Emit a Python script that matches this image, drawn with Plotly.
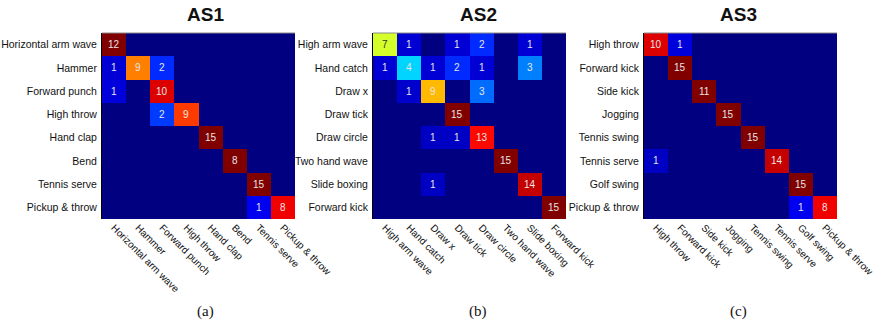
import plotly.graph_objects as go
import numpy as np

labels_as1 = ["Horizontal arm wave", "Hammer", "Forward punch", "High throw",
              "Hand clap", "Bend", "Tennis serve", "Pickup & throw"]
counts_as1 = [
    [12, 0, 0, 0, 0, 0, 0, 0],
    [1, 9, 2, 0, 0, 0, 0, 0],
    [1, 0, 10, 0, 0, 0, 0, 0],
    [0, 0, 2, 9, 0, 0, 0, 0],
    [0, 0, 0, 0, 15, 0, 0, 0],
    [0, 0, 0, 0, 0, 8, 0, 0],
    [0, 0, 0, 0, 0, 0, 15, 0],
    [0, 0, 0, 0, 0, 0, 1, 8],
]

labels_as2 = ["High arm wave", "Hand catch", "Draw x", "Draw tick",
              "Draw circle", "Two hand wave", "Slide boxing", "Forward kick"]
counts_as2 = [
    [7, 1, 0, 1, 2, 0, 1, 0],
    [1, 4, 1, 2, 1, 0, 3, 0],
    [0, 1, 9, 0, 3, 0, 0, 0],
    [0, 0, 0, 15, 0, 0, 0, 0],
    [0, 0, 1, 1, 13, 0, 0, 0],
    [0, 0, 0, 0, 0, 15, 0, 0],
    [0, 0, 1, 0, 0, 0, 14, 0],
    [0, 0, 0, 0, 0, 0, 0, 15],
]

labels_as3 = ["High throw", "Forward kick", "Side kick", "Jogging",
              "Tennis swing", "Tennis serve", "Golf swing", "Pickup & throw"]
counts_as3 = [
    [10, 1, 0, 0, 0, 0, 0, 0],
    [0, 15, 0, 0, 0, 0, 0, 0],
    [0, 0, 11, 0, 0, 0, 0, 0],
    [0, 0, 0, 15, 0, 0, 0, 0],
    [0, 0, 0, 0, 15, 0, 0, 0],
    [1, 0, 0, 0, 0, 14, 0, 0],
    [0, 0, 0, 0, 0, 0, 15, 0],
    [0, 0, 0, 0, 0, 0, 1, 8],
]

titles = ["AS1", "AS2", "AS3"]
captions = ["(a)", "(b)", "(c)"]

jet = [
    [0.0, "rgb(0,0,128)"],
    [0.125, "rgb(0,0,255)"],
    [0.375, "rgb(0,255,255)"],
    [0.625, "rgb(255,255,0)"],
    [0.875, "rgb(255,0,0)"],
    [1.0, "rgb(128,0,0)"],
]

W, H = 874, 324
panels = [
    (labels_as1, counts_as1, 102, 295, 205),
    (labels_as2, counts_as2, 373, 566, 478),
    (labels_as3, counts_as3, 644, 837, 738),
]
top_px, bot_px = 33, 219


def px(xp):
    return xp / W


def py(yp):
    return 1 - yp / H


fig = go.Figure()
shapes = []
annotations = []
for i, (labels, counts, x0, x1, cx) in enumerate(panels):
    c = np.array(counts, dtype=float)
    norm = c / c.sum(axis=1, keepdims=True)
    xa = "x" if i == 0 else f"x{i+1}"
    ya = "y" if i == 0 else f"y{i+1}"
    fig.add_trace(go.Heatmap(
        z=norm, x=labels, y=labels, colorscale=jet, zmin=0, zmax=1,
        showscale=False, xaxis=xa, yaxis=ya, hoverinfo="skip",
        xgap=0, ygap=0,
    ))
    for r in range(8):
        for k in range(8):
            v = counts[r][k]
            if v == 0:
                continue
            nv = norm[r, k]
            col = "#333333" if 0.45 < nv < 0.62 else "#e6e6e6"
            annotations.append(dict(
                x=labels[k], y=labels[r], xref=xa, yref=ya, text=str(v),
                showarrow=False, font=dict(family="Liberation Sans", size=10, color=col),
            ))
    suffix = "" if i == 0 else str(i + 1)
    fig.update_layout(**{
        f"xaxis{suffix}": dict(
            domain=[px(x0), px(x1)], anchor=ya, tickangle=45, ticks="",
            showgrid=False, zeroline=False, showline=False, automargin=False,
            tickfont=dict(family="Liberation Sans", size=10, color="#111"),
            fixedrange=True,
        ),
        f"yaxis{suffix}": dict(
            domain=[py(bot_px), py(top_px)], anchor=xa,
            autorange="reversed", ticks="", showgrid=False, zeroline=False,
            showline=True, linecolor="#000", linewidth=1, automargin=False,
            tickfont=dict(family="Liberation Sans", size=10.5, color="#111"),
            ticklabelstandoff=2, fixedrange=True,
        ),
    })
    shapes.append(dict(type="line", xref=f"{xa} domain", yref=f"{ya} domain",
                       x0=0, x1=1, y0=1, y1=1, line=dict(color="#888", width=1)))
    annotations.append(dict(
        x=px(cx), y=py(15), xref="paper", yref="paper", text=f"<b>{titles[i]}</b>",
        showarrow=False, font=dict(family="Liberation Sans", size=19, color="#111"),
        xanchor="center", yanchor="middle",
    ))
    annotations.append(dict(
        x=px(cx), y=py(311), xref="paper", yref="paper", text=captions[i],
        showarrow=False, font=dict(family="Liberation Serif", size=15, color="#111"),
        xanchor="center", yanchor="middle",
    ))

fig.update_layout(
    width=W, height=H, margin=dict(l=0, r=0, t=0, b=0),
    paper_bgcolor="white", plot_bgcolor="white",
    shapes=shapes, annotations=annotations, showlegend=False,
)
fig.write_html(
    "out.html",
    config={"displayModeBar": False, "staticPlot": True},
    post_script="document.body.style.margin='0';document.body.style.overflow='hidden';",
)
